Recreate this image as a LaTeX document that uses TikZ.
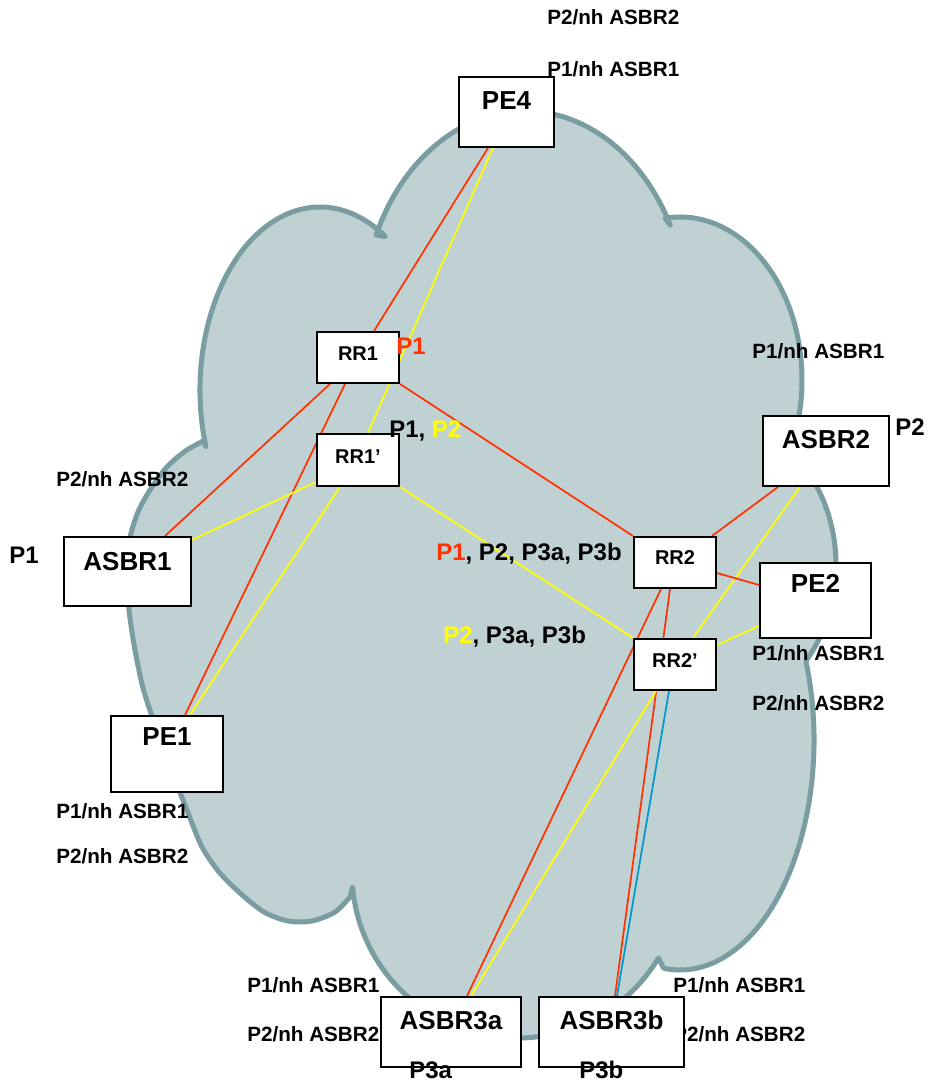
\documentclass[tikz,border=0pt]{standalone}
\usepackage{fontspec}
\setmainfont{Liberation Sans}
\usetikzlibrary{calc}
\pgfdeclarelayer{cloudlayer}
\pgfdeclarelayer{linklayer}
\pgfsetlayers{cloudlayer,linklayer,main}
\definecolor{cloudfill}{RGB}{192,209,212}
\definecolor{cloudedge}{RGB}{122,157,161}
\definecolor{lsred}{RGB}{255,51,0}
\definecolor{lsyellow}{RGB}{255,255,0}
\definecolor{lsblue}{RGB}{0,153,204}

\begin{document}
\begin{tikzpicture}[x=0.75pt,y=-0.75pt,
  box/.style={draw=black, line width=1.5pt, fill=white, inner sep=0pt,
    anchor=north west, font=\bfseries\fontsize{19.5}{22}\selectfont},
  rrbox/.style={box, minimum width=61.5pt, font=\bfseries\fontsize{15}{18}\selectfont},
  nh/.style={anchor=base west, inner sep=0pt, font=\bfseries\fontsize{15.5}{18}\selectfont},
  plabel/.style={anchor=base west, inner sep=0pt, font=\bfseries\fontsize{18}{21}\selectfont},
  link/.style={line width=1.3pt},
  redlink/.style={link, draw=lsred},
  yellowlink/.style={link, draw=lsyellow},
  bluelink/.style={link, draw=lsblue},
  cloudline/.style={draw=cloudedge, line width=3.75pt, line cap=round, line join=round}
]
\useasboundingbox (0,0) rectangle (928,1081);

% ---- the AS cloud: elliptic lobes joined at small hooks ----
\begin{pgfonlayer}{cloudlayer}
\path[fill=cloudfill, cloudline]
  ($(320,390)+(162:120 and 183)$) arc[start angle=162, end angle=303, x radius=120, y radius=183]
  -- ($(525,320)+(204:163 and 209)$) arc[start angle=204, end angle=333, x radius=163, y radius=209]
  -- ($(680,380)+(263:122 and 163)$) arc[start angle=263, end angle=385.4, x radius=122, y radius=163]
  -- ($(700,565)+(-48.6:136 and 153)$) arc[start angle=-48.6, end angle=38, x radius=136, y radius=153]
  -- ($(680,740)+(-20:134 and 230)$) arc[start angle=-20, end angle=97, x radius=134, y radius=230]
  -- ($(517,873)+(31:165 and 165)$) arc[start angle=31, end angle=175, x radius=165, y radius=165]
  -- plot[smooth] coordinates {(350,897) (335,912) (312,921) (288,921) (264,912) (240,893)
       (219,872) (202,847) (190,818) (178,787) (166,755) (154,722) (143,688) (135,650)
       (129,610) (127,570) (130,538) (138,512) (150,490) (166,468) (184,452) (203,441)}
  -- cycle;
\end{pgfonlayer}

% ---- labels lying under the boxes ----
\node[nh] (nh15) at (247,992) {P1/nh ASBR1};
\node[nh] (nh16) at (247,1041) {P2/nh ASBR2};
\node[nh] (nh17) at (673,992) {P1/nh ASBR1};
\node[nh] (nh18) at (673,1041) {P2/nh ASBR2};

% ---- routers ----
\node[box, minimum width=71.25pt, text height=24pt, text depth=28.5pt] (pe4) at (458,76) {PE4};
\node[rrbox, text height=21pt, text depth=17.25pt] (rr1) at (316,331) {RR1};
\node[rrbox, text height=21.75pt, text depth=17.25pt] (rr1p) at (316,433) {RR1’};
\node[box, minimum width=95.25pt, text height=24.75pt, text depth=27pt] (asbr1) at (63,536) {ASBR1};
\node[box, minimum width=84pt, text height=21.75pt, text depth=35.25pt] (pe1) at (110,715) {PE1};
\node[box, minimum width=94.5pt, text height=24pt, text depth=28.5pt] (asbr2) at (762,415) {ASBR2};
\node[rrbox, text height=20.25pt, text depth=18pt] (rr2) at (633,536) {RR2};
\node[box, minimum width=83.25pt, text height=21.75pt, text depth=34.5pt] (pe2) at (759,562) {PE2};
\node[rrbox, text height=21pt, text depth=17.25pt] (rr2p) at (633,638) {RR2’};
\node[box, minimum width=105pt, text height=24pt, text depth=28.5pt] (asbr3a) at (380,996) {ASBR3a};
\node[box, minimum width=108.75pt, text height=24pt, text depth=28.5pt] (asbr3b) at (538,996) {ASBR3b};

% ---- sessions ----
\begin{pgfonlayer}{linklayer}
\draw[redlink] ($(pe4.south west)+(30,0)$) -- ($(rr1.north west)+(58,0)$);
\draw[yellowlink] ($(pe4.south west)+(35,0)$) -- ($(rr1p.north west)+(52,0)$);
\draw[redlink] ($(rr1.south west)+(14,0)$) -- ($(asbr1.north west)+(102,0)$);
\draw[redlink] ($(rr1.south west)+(29,0)$) -- ($(pe1.north west)+(75,0)$);
\draw[yellowlink] ($(rr1p.south west)+(0,-5)$) -- ($(asbr1.north east)+(0,4)$);
\draw[yellowlink] ($(rr1p.south west)+(24,0)$) -- ($(pe1.north west)+(80,0)$);
\draw[redlink] (rr1.south east) -- (rr2.north west);
\draw[yellowlink] (rr1p.south east) -- (rr2p.north west);
\draw[redlink] ($(rr2.north east)+(-5,0)$) -- ($(asbr2.south west)+(16,0)$);
\draw[yellowlink] ($(asbr2.south west)+(38,0)$) -- ($(rr2p.north west)+(60,0)$);
\draw[redlink] ($(rr2.north east)+(0,37)$) -- ($(pe2.north west)+(0,23)$);
\draw[yellowlink] ($(rr2p.north east)+(0,7)$) -- ($(pe2.north west)+(0,64)$);
\draw[redlink] ($(rr2.south west)+(28,0)$) -- ($(asbr3a.north west)+(87,0)$);
\draw[redlink] ($(rr2.south west)+(37,0)$) -- ($(asbr3b.north west)+(77,0)$);
\draw[yellowlink] ($(rr2p.south west)+(23,0)$) -- ($(asbr3a.north west)+(91,0)$);
\draw[bluelink] ($(rr2p.south west)+(36,0)$) -- ($(asbr3b.north west)+(79,0)$);
\end{pgfonlayer}

% ---- prefix / next-hop labels ----
\node[nh] (nh1) at (547,25) {P2/nh ASBR2};
\node[nh] (nh2) at (547,77) {P1/nh ASBR1};
\node[nh] (nh3) at (752,358) {P1/nh ASBR1};
\node[plabel] (p2r) at (895,435) {P2};
\node[plabel, text=lsred] (p1rr1) at (396,354) {P1};
\node[plabel] (p12) at (389,437) {P1, \textcolor{lsyellow}{P2}};
\node[nh] (nh7) at (56,486) {P2/nh ASBR2};
\node[plabel] (p1l) at (9,563) {P1};
\node[plabel] (pall) at (436,560) {\textcolor{lsred}{P1}, P2, P3a, P3b};
\node[plabel] (p23) at (443,643) {\textcolor{lsyellow}{P2}, P3a, P3b};
\node[nh] (nh11) at (752,660) {P1/nh ASBR1};
\node[nh] (nh12) at (752,710) {P2/nh ASBR2};
\node[nh] (nh13) at (56,818) {P1/nh ASBR1};
\node[nh] (nh14) at (56,863) {P2/nh ASBR2};
\node[plabel] (p3a) at (409,1078) {P3a};
\node[plabel] (p3b) at (579,1078) {P3b};
\end{tikzpicture}
\end{document}
